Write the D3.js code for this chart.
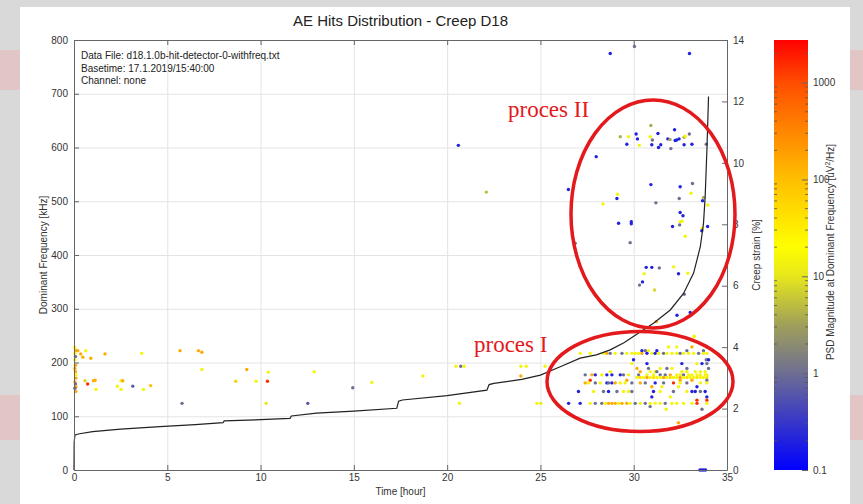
<!DOCTYPE html>
<html>
<head>
<meta charset="utf-8">
<script src="https://cdn.jsdelivr.net/npm/d3@7/dist/d3.min.js"></script>
<style>
	body { margin: 0; background: #d9d9d9; }
	svg { display: block; }
</style>
</head>
<body>
<svg id="chart" width="863" height="504" font-family='"Liberation Sans", Arial, sans-serif'></svg>
<script>
//===== DATA =====//

var timeTicks = [0, 5, 10, 15, 20, 25, 30, 35];
var freqTicks = [0, 100, 200, 300, 400, 500, 600, 700, 800];
var strainTicks = [0, 2, 4, 6, 8, 10, 12, 14];
var psdTicks = [0.1, 1, 10, 100, 1000];

// creep strain curve [%] over time [hour]
var strainTime = [0, 0.01, 0.05, 0.3, 1.0, 2.5, 4.6, 6.5, 7.99, 8.05, 10, 11.58, 11.65, 13.0, 15, 17.3, 17.4, 17.6, 20, 22.13, 22.25, 22.5, 24, 25.0, 26.06, 27.13, 28.0, 28.74, 29.5, 30.24, 31.06, 31.96, 32.67, 33.21, 33.57, 33.74, 33.83, 33.93, 34.01];
var strainValue = [0, 0.9, 1.14, 1.18, 1.25, 1.33, 1.41, 1.48, 1.54, 1.60, 1.64, 1.68, 1.76, 1.85, 1.92, 2.01, 2.24, 2.28, 2.42, 2.60, 2.78, 2.82, 2.95, 3.09, 3.36, 3.64, 3.75, 3.91, 4.15, 4.45, 4.78, 5.21, 5.75, 6.41, 7.27, 8.03, 8.9, 10.53, 12.16];

// hits: [time hour, dominant frequency kHz, PSD magnitude uV^2/Hz]
var hitsEarly = [
	[0.05,228,15],[0.1,222,150],[0.2,222,150],[0.05,217,15],[0.08,211,1],[0.05,205,15],[0.08,195,150],[0.05,189,150],
	[0.08,183,150],[0.1,177,15],[0.1,171,150],[0.05,164,150],[0.08,160,1],[0.1,155,150],[0.05,152,1],[0.1,146,150],
	[0.36,216,150],[0.47,210,150],[0.63,222,15],[0.9,208,150],[0.59,166,8],[0.73,160,1500],[1.04,166,150],[1.13,167,150],
	[1.18,150,15],[1.66,216,150],[2.32,156,15],[2.52,166,15],[2.61,166,150],[2.52,150,15],[3.15,156,0.7],[3.63,217,15],
	[3.72,150,15],[4.11,157,100],[5.68,222,150],[5.79,124,1],[6.67,222,150],[6.85,219,150],[6.85,187,15],[8.67,165,60],
	[9.26,187,150],[9.76,165,15],[10.37,165,1500],[10.42,182,15],[10.3,124,10]
];

var hitsMiddle = [
	[12.87,183,15],[12.53,124,0.6],[14.94,153,1],[15.96,163,15],[18.7,175,15],[20.47,193,15],[20.73,193,1],[20.91,193,15],
	[20.66,124,15],[23.95,193,15],[24.24,193,15],[23.95,175,150],[24.81,124,15],[25.02,124,12],[25.25,193,15],
	[20.6,604,0.2],[22.1,517,5]
];

var hitsProcesI = [
	[33.24,249,15],
	[31.87,229,15],[32.31,229,15],[33.12,229,150],[33.92,229,1],
	[30.44,222,0.2],[30.62,222,1],[30.79,222,15],[31.24,222,0.2],[32.85,222,1],[33.74,222,1],
	[27.13,217,15],[27.67,217,15],[28.38,217,15],[28.56,217,150],[28.74,217,1],[29.01,217,15],[29.37,217,1],[29.63,217,15],
	[29.9,217,15],[30.08,217,15],[30.26,217,15],[30.44,217,150],[30.71,217,0.2],[30.97,217,15],[31.15,217,0.2],[31.33,217,15],
	[31.6,217,1],[31.78,217,15],[32.05,217,15],[32.31,217,15],[32.49,217,1],[32.67,217,15],[32.94,217,15],[33.21,217,15],
	[33.48,217,1],[33.74,217,15],[33.92,217,15],
	[29.99,205,0.2],[33.89,205,1],[34.01,205,0.2],
	[29.9,198,15],[30.71,198,0.2],[32.58,198,0.2],[33.39,198,15],[33.66,198,0.2],[33.92,198,1],
	[30.17,189,150],[30.79,189,1],[31.42,189,15],[31.78,189,1],[32.05,189,15],[32.85,189,1],[34.01,189,1],
	[28.74,183,15],[30.35,183,150],[30.88,183,15],[31.15,183,15],[31.24,183,1],[32.58,183,15],[32.85,183,15],[33.3,183,15],
	[33.57,183,15],[33.83,183,15],
	[27.4,177,1],[27.76,177,150],[27.94,177,0.2],[28.29,177,15],[28.56,177,0.2],[28.83,177,0.2],[29.28,177,0.2],[29.45,177,1],
	[29.72,177,15],[30.26,177,1],[30.71,177,15],[31.06,177,15],[31.42,177,1],[31.69,177,1],[31.96,177,150],[32.31,177,15],
	[32.49,177,15],[32.67,177,1],[32.94,177,15],[33.12,177,15],[33.39,177,15],[33.57,177,15],[33.83,177,15],[33.92,177,15],
	[30.17,172,15],[30.35,172,40],[30.53,172,15],[30.71,172,150],[30.88,172,15],[31.06,172,40],[31.24,172,15],[31.42,172,15],
	[31.6,172,150],[31.78,172,15],[31.96,172,40],[32.13,172,15],[32.31,172,15],[32.49,172,150],[32.67,172,15],[32.85,172,40],
	[33.03,172,15],[33.21,172,15],[33.39,172,40],[33.57,172,15],[33.74,172,15],[33.92,172,40],
	[27.67,167,1500],[29.63,167,150],[32.49,167,150],[33.12,167,150],[33.92,167,1],
	[27.4,162,150],[27.58,162,15],[27.94,162,1],[28.2,162,15],[28.56,162,0.2],[28.65,162,1],[28.83,162,0.2],[29.01,162,150],
	[29.28,162,15],[29.54,162,15],[29.9,162,1],[30.35,162,150],[30.62,162,1],[31.15,162,0.2],[31.6,162,1],[32.13,162,1500],
	[32.49,162,15],[32.85,162,1],[33.57,162,15],[33.92,162,15],
	[30.97,155,150],[31.51,155,15],[32.4,155,15],[33.39,155,0.2],
	[27.04,146,0.2],[27.85,146,15],[28.38,146,1],[28.65,146,0.2],[29.1,146,1],[29.45,146,15],[29.72,146,15],[29.9,146,1],
	[31.06,146,0.2],[31.42,146,15],[32.13,146,1],[32.85,146,15],[33.12,146,0.2],[33.3,146,0.2],[33.57,146,1],[33.83,146,0.2],
	[30.97,136,0.2],[31.96,136,15],[33.92,136,0.2],
	[33.39,130,1500],[33.92,130,1500],
	[26.51,124,0.2],[27.13,124,0.2],[27.67,124,15],[27.94,124,1],[28.29,124,1],[28.47,124,15],[28.65,124,150],[28.83,124,150],
	[29.01,124,150],[29.19,124,15],[29.37,124,150],[29.63,124,150],[29.81,124,15],[30.08,124,1],[30.35,124,15],[30.62,124,1],
	[30.88,124,15],[31.15,124,15],[31.42,124,15],[31.69,124,1],[32.05,124,15],[32.31,124,15],[32.67,124,15],[33.12,124,15],
	[33.39,124,1500],[33.92,124,15],
	[30.88,118,1],[31.74,113,15],[33.66,113,1],[32.4,88,150],
	[33.55,0,0.2],[33.65,0,0.2],[33.75,0,0.2],[33.85,0,0.2]
];

var hitsProcesII = [
	[28.74,775,0.2],[30.04,788,1],[32.99,775,0.2],
	[29.28,620,4],[29.72,620,15],[30.13,625,0.2],[30.2,616,0.2],[29.63,606,0.2],[30.3,604,15],[30.92,641,4],[30.88,620,15],
	[31.0,614,1],[31.3,626,0.2],[30.97,605,0.2],[31.33,600,0.2],[31.45,605,0.2],[31.83,616,0.2],[31.95,615,4],[32.19,633,0.2],
	[32.22,613,0.2],[32.3,614,0.2],[32.43,616,0.2],[31.99,598,1],[32.7,619,4],[32.76,621,15],[32.98,625,1],[32.7,605,0.2],
	[33.12,606,0.2],[33.89,606,1],
	[27.99,583,0.2],[26.5,522,0.2],[30.92,531,0.2],[32.49,527,0.2],[33.15,533,1],[33.07,515,15],[29.13,513,15],[29.1,505,0.2],
	[28.35,495,15],[31.19,497,1],[32.44,505,1],[33.74,507,4],[33.69,501,0.2],[33.97,493,15],[29.19,459,0.2],[29.87,462,0.2],
	[29.87,458,0.2],[32.49,479,0.2],[32.64,473,0.2],[32.49,462,15],[32.6,463,15],[32.08,453,0.2],[32.46,456,1],[33.69,450,15],
	[33.65,445,0.2],[33.96,453,0.2],[32.76,435,15],[29.81,423,1],[26.86,422,1],[30.67,377,0.2],[30.97,377,0.2],[31.37,376,1],
	[32.14,378,15],[32.4,365,0.2],[32.9,366,15],[30.56,365,15],[30.47,350,0.2],[30.31,344,1],[31.12,335,8],[32.71,327,1],
	[32.32,288,0.2],[33.03,293,0.2],[31.21,276,150],[33.24,248,15]
];

// colour map stops: log10(PSD) -> colour
var colorStops = [-1, 0, 0.5, 1, 1.3, 2, 3, 3.44];
var colorValues = ['#0000ff', '#6e6e92', '#a0a05a', '#e6e61c', '#ffff00', '#ffbf00', '#ff4d00', '#ff0000'];

//===== CHART =====//

var svg = d3.select('#chart');
var plotLeft = 74, plotRight = 727, plotTop = 40, plotBottom = 470;
var sans = '"Liberation Sans", Arial, sans-serif';
var serif = '"Liberation Serif", "Times New Roman", serif';

var x = d3.scaleLinear().domain([0, 35]).range([plotLeft, plotRight]);
var y = d3.scaleLinear().domain([0, 800]).range([plotBottom, plotTop]);
var yStrain = d3.scaleLinear().domain([0, 14]).range([plotBottom, plotTop]);
var yPsd = d3.scaleLog().domain([0.1, Math.pow(10, 3.44)]).range([plotBottom, plotTop]);
var colorLog = d3.scaleLinear().domain(colorStops).range(colorValues).clamp(true);
function psdColor(v) { return colorLog(Math.log10(v)); }

// slide background bits
var deco = svg.append('g');
[[0, 50, 20, 40], [0, 395, 20, 45], [850, 50, 13, 40], [850, 395, 13, 45]].forEach(function (r) {
	deco.append('rect').attr('x', r[0]).attr('y', r[1]).attr('width', r[2]).attr('height', r[3])
		.attr('fill', '#e6bcbc').attr('opacity', 0.7);
});
svg.append('rect').attr('x', 20).attr('y', 7).attr('width', 830).attr('height', 497).attr('fill', '#ffffff');

// grid
var grid = svg.append('g').attr('stroke', '#e4e4e4').attr('stroke-width', 1);
grid.selectAll('line.v').data(timeTicks.slice(1, -1)).enter().append('line')
	.attr('x1', function (d) { return x(d) + 0.5; }).attr('x2', function (d) { return x(d) + 0.5; })
	.attr('y1', plotTop).attr('y2', plotBottom);
grid.selectAll('line.h').data(freqTicks.slice(1, -1)).enter().append('line')
	.attr('x1', plotLeft).attr('x2', plotRight)
	.attr('y1', function (d) { return y(d) + 0.5; }).attr('y2', function (d) { return y(d) + 0.5; });

// hits
var hits = hitsEarly.concat(hitsMiddle, hitsProcesI, hitsProcesII);
svg.append('g').selectAll('circle').data(hits).enter().append('circle')
	.attr('cx', function (d) { return x(d[0]); })
	.attr('cy', function (d) { return y(d[1]); })
	.attr('r', 1.7)
	.attr('fill', function (d) { return psdColor(d[2]); });

// creep strain curve
var line = d3.line()
	.x(function (d, i) { return x(strainTime[i]); })
	.y(function (d) { return yStrain(d); });
svg.append('path').datum(strainValue)
	.attr('d', line)
	.attr('fill', 'none')
	.attr('stroke', '#222')
	.attr('stroke-width', 1.2);

// axes
function styleAxis(g) {
	g.attr('font-family', sans).attr('font-size', 10);
	g.selectAll('path.domain').attr('stroke', '#666');
	g.selectAll('.tick line').attr('stroke', '#666');
	g.selectAll('.tick text').attr('fill', '#333');
}
svg.append('g').attr('transform', 'translate(' + plotLeft + ',0)')
	.call(d3.axisLeft(y).tickValues(freqTicks).tickSize(-5).tickSizeOuter(0).tickPadding(6))
	.call(styleAxis);
svg.append('g').attr('transform', 'translate(' + plotRight + ',0)')
	.call(d3.axisRight(yStrain).tickValues(strainTicks).tickSize(-5).tickSizeOuter(0).tickPadding(6))
	.call(styleAxis);
svg.append('g').attr('transform', 'translate(0,' + plotBottom + ')')
	.call(d3.axisBottom(x).tickValues(timeTicks).tickSize(-5).tickSizeOuter(0).tickPadding(4))
	.call(styleAxis);
svg.append('g').attr('transform', 'translate(0,' + plotTop + ')')
	.call(d3.axisTop(x).tickValues(timeTicks).tickSize(-5).tickSizeOuter(0).tickFormat(''))
	.call(styleAxis);

// colour bar
var cbLeft = 774, cbRight = 808;
var defs = svg.append('defs');
var grad = defs.append('linearGradient').attr('id', 'psd-grad')
	.attr('x1', 0).attr('y1', 1).attr('x2', 0).attr('y2', 0);
d3.range(0, 1.0001, 0.02).forEach(function (t) {
	var lv = -1 + t * 4.44;
	grad.append('stop').attr('offset', t).attr('stop-color', colorLog(lv));
});
svg.append('rect').attr('x', cbLeft).attr('y', plotTop).attr('width', cbRight - cbLeft).attr('height', plotBottom - plotTop)
	.attr('fill', 'url(#psd-grad)');
var minorTicks = [];
[0.1, 1, 10, 100, 1000].forEach(function (dec) {
	d3.range(2, 10).forEach(function (m) {
		if (dec * m < yPsd.domain()[1]) { minorTicks.push(dec * m); }
	});
});
var cbTicks = svg.append('g').attr('stroke', '#555').attr('stroke-width', 0.8);
cbTicks.selectAll('line.l').data(minorTicks).enter().append('line')
	.attr('x1', cbLeft).attr('x2', cbLeft + 3)
	.attr('y1', function (d) { return yPsd(d); }).attr('y2', function (d) { return yPsd(d); });
cbTicks.selectAll('line.r').data(minorTicks).enter().append('line')
	.attr('x1', cbRight - 3).attr('x2', cbRight)
	.attr('y1', function (d) { return yPsd(d); }).attr('y2', function (d) { return yPsd(d); });
svg.append('g').attr('transform', 'translate(' + cbRight + ',0)')
	.call(d3.axisRight(yPsd).tickValues(psdTicks).tickFormat(d3.format('~g')).tickSize(-6).tickSizeOuter(0).tickPadding(5))
	.call(styleAxis)
	.call(function (g) { g.select('path.domain').remove(); });

// titles
svg.append('text').attr('x', (plotLeft + plotRight) / 2).attr('y', 26).attr('text-anchor', 'middle')
	.attr('font-size', 15).attr('fill', '#222').text('AE Hits Distribution - Creep D18');
svg.append('text').attr('x', (plotLeft + plotRight) / 2).attr('y', 495).attr('text-anchor', 'middle')
	.attr('font-size', 10).attr('fill', '#333').text('Time [hour]');
svg.append('text').attr('transform', 'translate(47,255) rotate(-90)').attr('text-anchor', 'middle')
	.attr('font-size', 10).attr('fill', '#333').text('Dominant Frequency [kHz]');
svg.append('text').attr('transform', 'translate(760,255) rotate(-90)').attr('text-anchor', 'middle')
	.attr('font-size', 10).attr('fill', '#333').text('Creep strain [%]');
var cbTitle = svg.append('text').attr('transform', 'translate(834,252) rotate(-90)').attr('text-anchor', 'middle')
	.attr('font-size', 10).attr('fill', '#333');
cbTitle.append('tspan').text('PSD Magnitude at Dominant Frequency [uV');
cbTitle.append('tspan').attr('dy', -4).attr('font-size', 7).text('2');
cbTitle.append('tspan').attr('dy', 4).text('/Hz]');

var info = ['Data File: d18.1.0b-hit-detector-0-withfreq.txt', 'Basetime: 17.1.2019/15:40:00', 'Channel: none'];
svg.append('g').selectAll('text').data(info).enter().append('text')
	.attr('x', 81).attr('y', function (d, i) { return 59 + i * 12.5; })
	.attr('font-size', 10).attr('fill', '#222').text(function (d) { return d; });

// process annotations
var red = '#e3191c';
svg.append('ellipse').attr('cx', 653).attr('cy', 214).attr('rx', 82).attr('ry', 114)
	.attr('fill', 'none').attr('stroke', red).attr('stroke-width', 3.5);
svg.append('ellipse').attr('cx', 640).attr('cy', 381.5).attr('rx', 93).attr('ry', 50)
	.attr('fill', 'none').attr('stroke', red).attr('stroke-width', 3.5);
svg.append('text').attr('x', 508).attr('y', 117).attr('font-family', serif)
	.attr('font-size', 23).attr('fill', red).text('proces II');
svg.append('text').attr('x', 474).attr('y', 352).attr('font-family', serif)
	.attr('font-size', 23).attr('fill', red).text('proces I');
</script>
</body>
</html>
